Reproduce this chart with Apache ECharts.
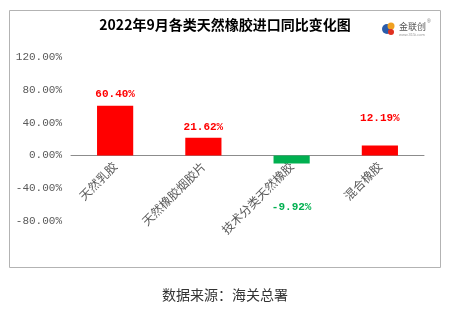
<!DOCTYPE html>
<html><head><meta charset="utf-8">
<script src="https://cdn.jsdelivr.net/npm/echarts@6/dist/echarts.min.js"></script>
<style>html,body{margin:0;padding:0;background:#fff}#c{width:450px;height:327px}</style>
</head><body><div id="c"></div>
<script>
const categories = ['天然乳胶', '天然橡胶烟胶片', '技术分类天然橡胶', '混合橡胶'];
const values = [60.40, 21.62, -9.92, 12.19];
const yTicks = [-80, -40, 0, 40, 80, 120];
const titleText = '2022年9月各类天然橡胶进口同比变化图';
const sourceText = '数据来源：海关总署';

const labelDist = [6, 5, 38, 22];
const chart = echarts.init(document.getElementById('c'), null, {renderer: 'canvas'});
const monoFont = '"Liberation Mono", "Noto Sans CJK SC", monospace';
chart.setOption({
  animation: false,
  grid: {left: 71, right: 26, top: 57, bottom: 106, containLabel: false},
  xAxis: {
    type: 'category', data: categories,
    axisLine: {onZero: true, lineStyle: {color: '#8c8c8c', width: 1}},
    axisTick: {show: false},
    axisLabel: {rotate: 45, interval: 0, margin: -57, color: '#595959', fontSize: 12,
      fontFamily: '"Noto Sans CJK SC", serif'}
  },
  yAxis: {
    type: 'value', min: yTicks[0], max: yTicks[yTicks.length - 1], interval: 40,
    splitLine: {show: false}, axisLine: {show: false}, axisTick: {show: false},
    axisLabel: {color: '#595959', fontSize: 11, margin: 9, fontFamily: monoFont,
      formatter: v => v.toFixed(2) + '%'}
  },
  series: [{
    type: 'bar', barWidth: '41%',
    data: values.map((v, i) => ({
      value: v,
      itemStyle: {color: v >= 0 ? '#ff0000' : '#00b050'},
      label: {show: true, position: v >= 0 ? 'top' : 'bottom', distance: labelDist[i],
        color: v >= 0 ? '#ff0000' : '#00b050', fontWeight: 'bold', fontSize: 11,
        fontFamily: monoFont, formatter: p => p.value.toFixed(2) + '%'}
    }))
  }],
  graphic: [
    {type: 'rect', shape: {x: 9.5, y: 10.5, width: 431, height: 257},
      style: {fill: 'none', stroke: '#b3b3b3', lineWidth: 1}, z: -1},
    {type: 'text', left: 'center', top: 18,
      style: {text: titleText, font: 'bold 14px "Noto Sans CJK SC", sans-serif', fill: '#000'}},
    {type: 'text', left: 'center', top: 288,
      style: {text: sourceText, font: '14px "Noto Sans CJK SC", sans-serif', fill: '#333'}},
    {type: 'group', left: 382, top: 19, children: [
      {type: 'circle', shape: {cx: 6, cy: 8, r: 5}, style: {fill: '#2a5caa'}},
      {type: 'circle', shape: {cx: 10, cy: 5, r: 3.5}, style: {fill: '#f0a020'}},
      {type: 'circle', shape: {cx: 10, cy: 11, r: 3}, style: {fill: '#e03020'}},
      {type: 'text', x: 18, y: 1, style: {text: '金联创', font: '9px "Noto Sans CJK SC", sans-serif', fill: '#555'}},
      {type: 'text', x: 46, y: -2, style: {text: '®', font: '5px sans-serif', fill: '#777'}},
      {type: 'text', x: 18, y: 12, style: {text: 'www.315i.com', font: '4px sans-serif', fill: '#999'}}
    ]}
  ]
});
</script></body></html>
